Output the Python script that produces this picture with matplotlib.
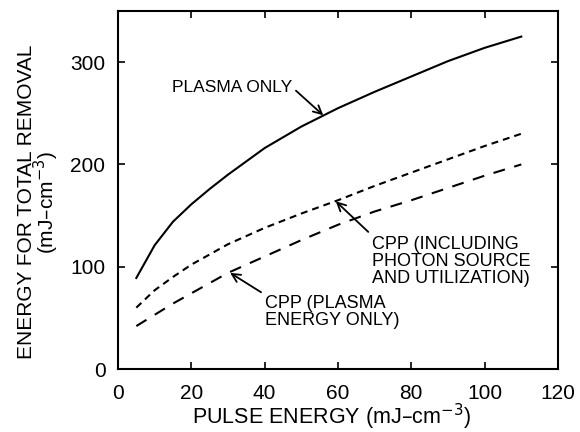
import matplotlib
matplotlib.use("Agg")
import matplotlib.pyplot as plt

plt.rcParams['font.family'] = ['Liberation Sans', 'DejaVu Sans']
plt.rcParams['lines.scale_dashes'] = False

pulse_solid = [5, 10, 15, 20, 25, 30, 40, 50, 60, 70, 80, 90, 100, 110]
plasma_only = [89, 121, 144, 161, 176, 190, 216, 237, 255, 271, 286, 301, 314, 325]

pulse_cpp = [5, 10, 15, 20, 30, 40, 50, 60, 70, 80, 90, 100, 110]
cpp_including = [60, 77, 90, 102, 122, 138, 152, 165, 179, 192, 205, 218, 230]
cpp_plasma = [42, 53, 64, 74, 94, 110, 126, 141, 154, 165, 177, 189, 200]

x_ticks = [0, 20, 40, 60, 80, 100, 120]
y_ticks = [0, 100, 200, 300]

fig = plt.figure(figsize=(5.8, 4.32), dpi=100)
ax = fig.add_axes([0.2034, 0.1458, 0.7586, 0.8287])

ax.plot(pulse_solid, plasma_only, color='black', lw=1.5)
ax.plot(pulse_cpp, cpp_including, color='black', lw=1.5, dashes=(5, 3.6))
ax.plot(pulse_cpp, cpp_plasma, color='black', lw=1.5, dashes=(8.6, 7))

ax.set_xlim(0, 120)
ax.set_ylim(0, 350)
ax.set_xticks(x_ticks)
ax.set_yticks(y_ticks)
ax.tick_params(direction='in', length=5, width=1.2, top=True, right=True,
               labelsize=15)
ax.tick_params(axis='x', pad=11)
ax.tick_params(axis='y', pad=9)
for s in ax.spines.values():
    s.set_linewidth(1.5)

ax.set_xlabel('PULSE ENERGY (mJ\u2013cm$^{-3}$)', fontsize=15.5, labelpad=-1)
ax.xaxis.label.set_x(0.485)
ax.set_ylabel('ENERGY FOR TOTAL REMOVAL\n(mJ\u2013cm$^{-3}$)', fontsize=15,
              labelpad=7, linespacing=0.8)
ax.yaxis.label.set_y(0.466)

def arrow(rel):
    return dict(arrowstyle='->', color='black', lw=1.3, mutation_scale=15,
                relpos=rel, shrinkA=1, shrinkB=0)

ax.annotate('PLASMA ONLY', xy=(56, 248), xytext=(47.5, 275.5), fontsize=12.5,
            ha='right', va='center', arrowprops=arrow((1, 0.5)))
ax.annotate('CPP (INCLUDING\nPHOTON SOURCE\nAND UTILIZATION)', xy=(59.4, 164),
            xytext=(69.3, 105.6), fontsize=13, ha='left', va='center',
            linespacing=1.0, arrowprops=arrow((0, 1)))
ax.annotate('CPP (PLASMA\nENERGY ONLY)', xy=(30.6, 94), xytext=(40.1, 56),
            fontsize=13, ha='left', va='center', linespacing=1.0,
            arrowprops=arrow((0, 1)))

fig.savefig('out.png', dpi=100)
